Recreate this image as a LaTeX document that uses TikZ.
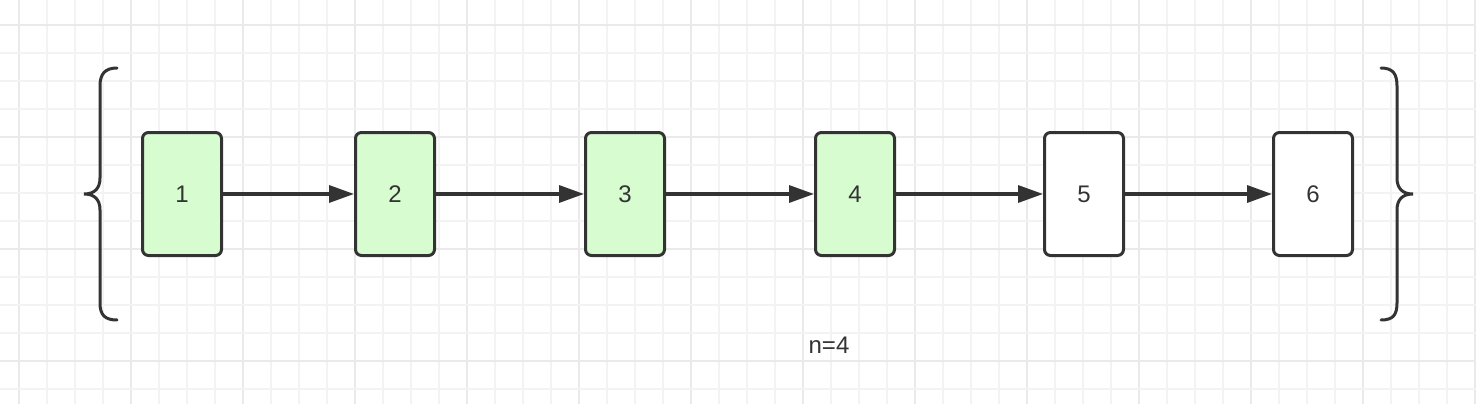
\documentclass[tikz,border=0pt]{standalone}
\usepackage{fontspec}
\setmainfont{Liberation Sans}
\usetikzlibrary{arrows.meta}
\definecolor{ink}{RGB}{51,51,51}
\definecolor{boxgreen}{RGB}{214,252,208}
\definecolor{gridminor}{RGB}{243,243,243}
\definecolor{gridmajor}{RGB}{234,234,234}
\begin{document}
\begin{tikzpicture}[x=1pt,y=-1pt,
  cell/.style={draw=ink,line width=3pt,rounded corners=6pt,minimum width=79pt,minimum height=123pt,inner sep=0pt,font=\fontsize{24pt}{28pt}\selectfont,text=ink},
  done/.style={cell,fill=boxgreen},
  todo/.style={cell,fill=white},
  link/.style={draw=ink,line width=3.4pt,-{Triangle[length=25pt,width=17pt]}},
  brace/.style={draw=ink,line width=3pt,line cap=round}]
\useasboundingbox (0,0) rectangle (1476,404);
\fill[white] (0,0) rectangle (1476,404);
% grid
\foreach \i in {0,...,52}{
  \pgfmathtruncatemacro{\m}{mod(\i,4)}
  \ifnum\m=0
    \draw[gridmajor,line width=1.6pt] ({19+28*\i},0) -- ({19+28*\i},404);
  \else
    \draw[gridminor,line width=1.2pt] ({19+28*\i},0) -- ({19+28*\i},404);
  \fi
}
\foreach \j in {0,...,13}{
  \pgfmathtruncatemacro{\m}{mod(\j,4)}
  \ifnum\m=0
    \draw[gridmajor,line width=1.6pt] (0,{25+28*\j}) -- (1476,{25+28*\j});
  \else
    \draw[gridminor,line width=1.2pt] (0,{25+28*\j}) -- (1476,{25+28*\j});
  \fi
}
% nodes
\node[done] (b1) at (182,194) {1};
\node[done] (b2) at (395,194) {2};
\node[done] (b3) at (625,194) {3};
\node[done] (b4) at (855,194) {4};
\node[todo] (b5) at (1084,194) {5};
\node[todo] (b6) at (1313,194) {6};
\draw[link] (b1) -- (b2);
\draw[link] (b2) -- (b3);
\draw[link] (b3) -- (b4);
\draw[link] (b4) -- (b5);
\draw[link] (b5) -- (b6);
% braces
\draw[brace] (117,68) .. controls (105,68) and (100,74) .. (100,86) -- (100,178)
  .. controls (100,188) and (95,194) .. (84,194)
  .. controls (95,194) and (100,200) .. (100,210) -- (100,303)
  .. controls (100,315) and (105,320) .. (117,320);
\draw[brace] (1381,68) .. controls (1393,68) and (1397,74) .. (1397,86) -- (1397,178)
  .. controls (1397,188) and (1402,194) .. (1413,194)
  .. controls (1402,194) and (1397,200) .. (1397,210) -- (1397,303)
  .. controls (1397,315) and (1393,320) .. (1381,320);
\node[text=ink,font=\fontsize{24pt}{28pt}\selectfont] (n) at (829,345) {n=4};
\end{tikzpicture}
\end{document}
